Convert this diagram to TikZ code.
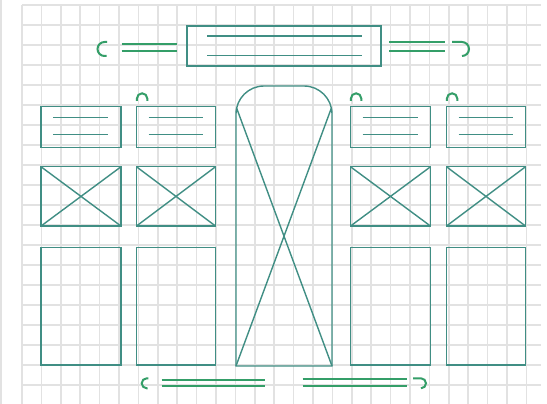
\documentclass[tikz,border=0pt]{standalone}
\usepackage{xcolor}
\usepackage{tikz}
\usetikzlibrary{calc}
\definecolor{wireteal}{RGB}{64, 142, 132}
\definecolor{markgreen}{RGB}{52, 158, 104}
\definecolor{gridgrey}{RGB}{226, 226, 226}

\tikzset{
    wirebox/.style={draw=wireteal, line width=1.3pt, inner sep=0pt, outer sep=0pt, minimum width=80pt},
    textbox/.style={wirebox, minimum height=40.6pt},
    imgbox/.style={wirebox, minimum height=59.3pt},
    colbox/.style={wirebox, minimum height=117.3pt},
    wire/.style={draw=wireteal, line width=1.4pt},
    bar/.style={draw=markgreen, line width=1.8pt},
    hook/.style={draw=markgreen, line width=2pt},
    gridline/.style={draw=gridgrey, line width=1.5pt}
}

\begin{document}
\begin{tikzpicture}[x=1pt, y=-1pt]
    \useasboundingbox (0,0) rectangle (547,404);
    \fill[white] (0,0) rectangle (547,404);

    % Background Grid
    \draw[gridline] (1,0) -- (1,404);
    \foreach \k in {0,...,26} \draw[gridline] ({22+19.4*\k},5) -- ({22+19.4*\k},404);
    \foreach \k in {0,...,19} \draw[gridline] (22,{5+20*\k}) -- (541,{5+20*\k});

    % Header Box
    \node[wirebox, minimum width=194pt, minimum height=40pt] (head) at (284,46) {};
    \draw[wire] ($(head.north west)+(20,10)$) -- ($(head.north east)+(-19,10)$);
    \draw[wire] ($(head.north west)+(20,29.7)$) -- ($(head.north east)+(-19,29.7)$);

    % Header Brackets
    \draw[hook] (107,42) -- (104.5,42) arc[start angle=270, end angle=90, radius=7] -- (106.5,56);
    \draw[bar] (121.7,44) -- (177.3,44) (121.7,51) -- (177.3,51);
    \draw[bar] (389.3,42) -- (445,42) (389.3,51) -- (445,51);
    \draw[hook] (452,42) -- (462,42) arc[start angle=270, end angle=450, radius=7];

    % Text Cards
    \node[textbox] (t1) at (81,127) {};
    \node[textbox, minimum width=79pt] (t2) at (176,127) {};
    \node[textbox] (t3) at (390.5,127) {};
    \node[textbox, minimum width=79pt] (t4) at (486,127) {};
    \foreach \b in {t1,t2,t3,t4} {
        \draw[wire] ($(\b.north west)+(12,10.6)$) -- ($(\b.north east)+(-13,10.6)$);
        \draw[wire] ($(\b.north west)+(12,27.6)$) -- ($(\b.north east)+(-13,27.6)$);
    }

    % Small Handles
    \foreach \b in {t2,t3,t4}
        \draw[hook] ($(\b.north west)+(0.4,-5.7)$) -- ++(0,-2.5) arc[start angle=180, end angle=360, radius=5.2] -- ++(0,2.5);

    % Image Placeholders
    \node[imgbox] (i1) at (81,196.4) {};
    \node[imgbox, minimum width=79pt] (i2) at (176,196.4) {};
    \node[imgbox] (i3) at (390.5,196.4) {};
    \node[imgbox, minimum width=79pt] (i4) at (486,196.4) {};
    \foreach \b in {i1,i2,i3,i4}
        \draw[wire] (\b.north west) -- (\b.south east) (\b.north east) -- (\b.south west);

    % Column Boxes
    \node[colbox] (c1) at (81,306.4) {};
    \node[colbox, minimum width=79pt] (c2) at (176,306.4) {};
    \node[colbox] (c3) at (390.5,306.4) {};
    \node[colbox, minimum width=79pt] (c4) at (486,306.4) {};

    % Center Tall Placeholder
    \coordinate (mtl) at (236.6,108);
    \coordinate (mtr) at (331.4,108);
    \coordinate (mbl) at (236,366);
    \coordinate (mbr) at (332,366);
    \draw[wire] (mbl) -- (236,114) arc[start angle=180, end angle=270, radius=28] -- (304,86)
        arc[start angle=270, end angle=360, radius=28] -- (mbr) -- cycle;
    \draw[wire] (mtl) -- (mbr) (mtr) -- (mbl);

    % Footer Brackets
    \draw[hook] (148.3,378.3) -- (146.7,378.3) arc[start angle=270, end angle=90, radius=5] -- (147.5,388.3);
    \draw[bar] (161.7,380) -- (265,380) (161.7,385.7) -- (265,385.7);
    \draw[bar] (302.7,379.3) -- (406.7,379.3) (302.7,385.7) -- (406.7,385.7);
    \draw[hook] (413,378.3) -- (421,378.3) arc[start angle=270, end angle=450, radius=5];
\end{tikzpicture}
\end{document}
